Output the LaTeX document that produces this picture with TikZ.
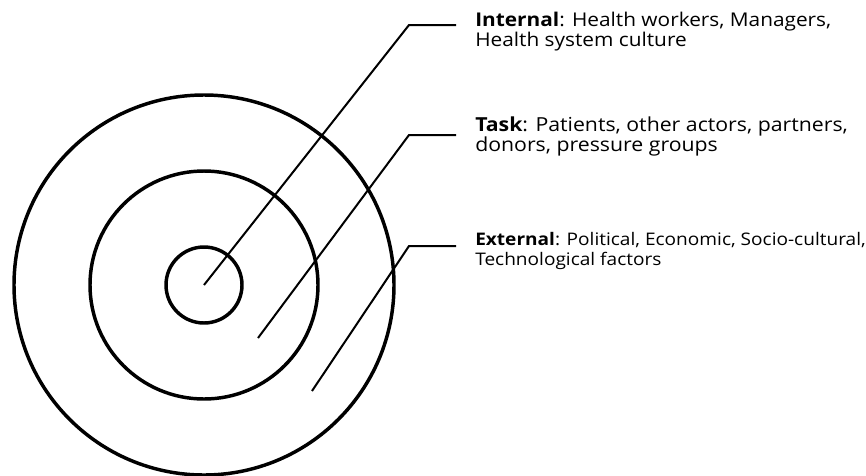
\documentclass[tikz,border=0pt]{standalone}
\usepackage{fontspec}
\setmainfont{Open Sans}[FakeStretch=1.1]
\begin{document}
\begin{tikzpicture}[x=0.75pt,y=-0.75pt,
  ring/.style={circle,draw,line width=2.6pt,inner sep=0pt,minimum size=#1},
  leader/.style={line width=1.5pt},
  lbl/.style={anchor=base west,align=left,inner sep=0pt}]
\useasboundingbox (0,0) rectangle (866,475);
\node[ring=285pt] (outer) at (204,285) {};
\node[ring=171pt] (middle) at (204,285) {};
\node[ring=57pt] (inner) at (204,285) {};
\coordinate (p1) at (204,285);
\coordinate (c1) at (409,25);
\coordinate (e1) at (456,25);
\coordinate (p2) at (258,338);
\coordinate (c2) at (409,135);
\coordinate (e2) at (456,135);
\coordinate (p3) at (312,391);
\coordinate (c3) at (409,246);
\coordinate (e3) at (456,246);
\draw[leader] (p1) -- (c1) -- (e1);
\draw[leader] (p2) -- (c2) -- (e2);
\draw[leader] (p3) -- (c3) -- (e3);
\node[lbl,font=\fontsize{14.2}{14.5}\selectfont] (t1) at (475,46) {\textbf{Internal}: Health workers, Managers,\\Health system culture};
\node[lbl,font=\fontsize{14.5}{15}\selectfont] (t2) at (475,151.5) {\textbf{Task}: Patients, other actors, partners,\\donors, pressure groups};
\node[lbl,font=\fontsize{13.0}{15}\selectfont] (t3) at (475,265) {\textbf{External}: Political, Economic, Socio-cultural,\\Technological factors};
\end{tikzpicture}
\end{document}
